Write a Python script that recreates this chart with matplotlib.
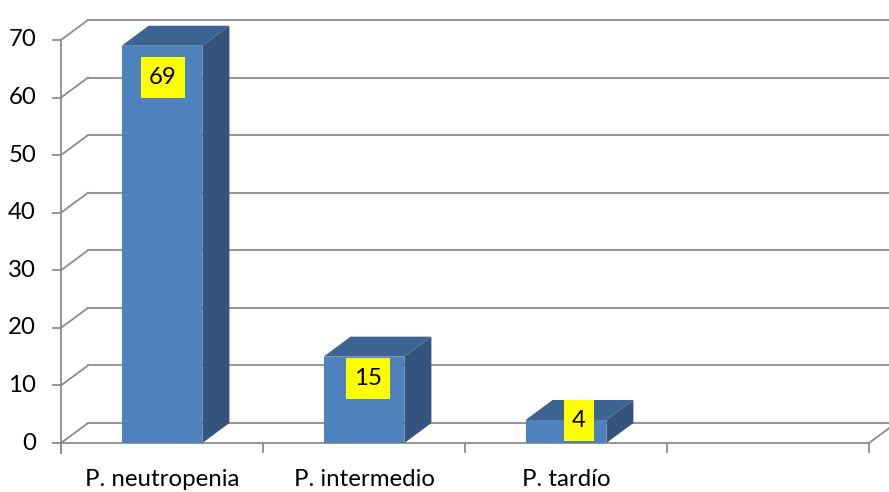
import matplotlib
matplotlib.use("Agg")
import matplotlib.pyplot as plt
from matplotlib.patches import Polygon, Rectangle
from matplotlib.lines import Line2D
from matplotlib.transforms import IdentityTransform
import numpy as np

# Data
categories = ["P. neutropenia", "P. intermedio", "P. tardío", ""]
values = [69, 15, 4]
y_ticks = [0, 10, 20, 30, 40, 50, 60, 70]

# Styling
FRONT = "#4F81BD"
TOP = "#3D6391"
SIDE = "#34547D"
GRID = "#8C8C8C"
LABEL_BG = "#FFFF00"
FONT = "Lato"
FS = 17.3

W, H, DPI = 889, 492, 100
DEPTH = np.array([27.0, 20.0])   # depth offset of the back wall, in pixels
BAR_W = 0.4

fig = plt.figure(figsize=(W / DPI, H / DPI), dpi=DPI)
fig.patch.set_facecolor("white")

# front plane: x from 61 px to 869 px, y from 443 px (0) to 40 px (70)
x0, x1 = 61, 869
yb, yt = 443, 40
ax = fig.add_axes([x0 / W, (H - yb) / H, (x1 - x0) / W, (yb - yt) / H])
ax.set_xlim(-0.5, len(categories) - 0.5)
ax.set_ylim(0, 70)
ax.set_axis_off()

ident = IdentityTransform()


def disp(x, v, back=False):
    p = ax.transData.transform((x, v))
    if back:
        p = p + DEPTH
    return p


def seg(p, q, **kw):
    ax.add_artist(Line2D([p[0], q[0]], [p[1], q[1]], transform=ident,
                         color=GRID, lw=1.3, clip_on=False, **kw))


xl, xr = -0.5, len(categories) - 0.5

# left wall diagonals + back wall gridlines
for v in y_ticks:
    seg(disp(xl, v), disp(xl, v, True))
    seg(disp(xl, v, True), disp(xr, v, True) + np.array([40, 0]))
# vertical value axis
seg(disp(xl, 0) - np.array([0, 10]), disp(xl, 70))
# value-axis tick marks and labels
for v in y_ticks:
    p = disp(xl, v)
    seg(p, p - np.array([8, 0]))
    fig.text((p[0] - 25) / W, p[1] / H, str(v), ha="right", va="center",
             fontsize=FS, family=FONT, color="black")
# floor front edge and right edge
seg(disp(xl, 0), disp(xr, 0))
seg(disp(xr, 0), disp(xr, 0, True))
# category ticks and labels
for i in range(len(categories) + 1):
    p = disp(i - 0.5, 0)
    seg(p, p - np.array([0, 9]))
for i, c in enumerate(categories):
    if c:
        p = disp(i, 0)
        fig.text(p[0] / W, (p[1] - 37) / H, c, ha="center", va="center",
                 fontsize=FS, family=FONT, color="black")

# bars: front faces through the axes, top and side faces as projected polygons
xs = np.arange(len(values))
bars = ax.bar(xs, values, width=BAR_W, color=FRONT, edgecolor="none",
              zorder=3, clip_on=False)
for b in bars:
    xa, xb = b.get_x(), b.get_x() + b.get_width()
    h = b.get_height()
    top = [disp(xa, h), disp(xb, h), disp(xb, h, True), disp(xa, h, True)]
    side = [disp(xb, 0), disp(xb, 0, True), disp(xb, h, True), disp(xb, h)]
    ax.add_artist(Polygon(top, closed=True, transform=ident, facecolor=TOP,
                          edgecolor="none", zorder=4, clip_on=False))
    ax.add_artist(Polygon(side, closed=True, transform=ident, facecolor=SIDE,
                          edgecolor="none", zorder=4, clip_on=False))

# value labels in yellow boxes (pixel offsets from each bar's front top)
label_offsets = [(0.5, -31.7), (3.5, -21.5), (13.0, -0.5)]
for b, v, (dx, dy) in zip(bars, values, label_offsets):
    p = disp(b.get_x() + b.get_width() / 2, v) + np.array([dx, dy])
    bw = 30 if v < 10 else 44
    ax.add_artist(Rectangle((p[0] - bw / 2, p[1] - 20.5), bw, 41,
                            transform=ident, facecolor=LABEL_BG,
                            edgecolor="none", zorder=6, clip_on=False))
    fig.text(p[0] / W, p[1] / H, str(v), ha="center", va="center",
             fontsize=FS, family=FONT, color="black", zorder=7)

fig.savefig("out.png", dpi=DPI, facecolor="white")
